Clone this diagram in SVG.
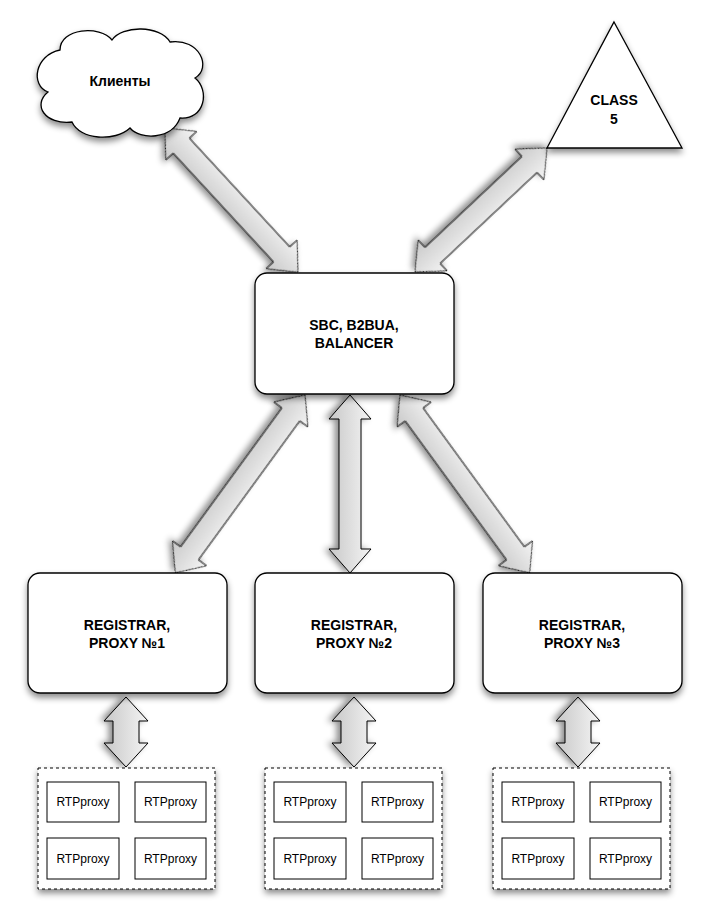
<svg xmlns="http://www.w3.org/2000/svg" width="706" height="921" viewBox="0 0 706 921">
<defs>
<filter id="sh" x="-20%" y="-20%" width="140%" height="150%"><feDropShadow dx="0" dy="4" stdDeviation="3" flood-color="#000" flood-opacity="0.45"/></filter>
<linearGradient id="ag" x1="0" y1="0" x2="0" y2="1"><stop offset="0" stop-color="#f4f4f4"/><stop offset="1" stop-color="#c8c8c8"/></linearGradient>
<style>
.n{fill:#fff;stroke:#000;stroke-width:1.3;filter:url(#sh)}
.t{font-family:"Liberation Sans",Arial,sans-serif;font-weight:bold;font-size:14px;text-anchor:middle}
.s{font-family:"Liberation Sans",Arial,sans-serif;font-size:12px;text-anchor:middle}
.d{fill:#fff;stroke:#000;stroke-width:1;stroke-dasharray:3,3;filter:url(#sh)}
.b{fill:#fff;stroke:#000;stroke-width:1}
.a{fill:url(#ag);stroke:#000;stroke-width:1;filter:url(#sh)}
</style>
</defs>
<g id="connectors">
<polygon class="a" transform="translate(165,128) rotate(47.3)" points="0,0 24,-21 24,-11 172,-11 172,-21 196,0 172,21 172,11 24,11 24,21"/>
<polygon class="a" transform="translate(547,148) rotate(136.8)" points="0,0 24,-21 24,-11 157,-11 157,-21 181,0 157,21 157,11 24,11 24,21"/>
<polygon class="a" transform="translate(305,395) rotate(126.1)" points="0,0 24,-21 24,-11 196,-11 196,-21 220,0 196,21 196,11 24,11 24,21"/>
<polygon class="a" transform="translate(350,395) rotate(90)" points="0,0 24,-21 24,-11 154,-11 154,-21 178,0 154,21 154,11 24,11 24,21"/>
<polygon class="a" transform="translate(400,395) rotate(53.9)" points="0,0 24,-21 24,-11 196,-11 196,-21 220,0 196,21 196,11 24,11 24,21"/>
<polygon class="a" transform="translate(126,697) rotate(90)" points="0,0 24,-22 24,-13 46,-13 46,-22 70,0 46,22 46,13 24,13 24,22"/>
<polygon class="a" transform="translate(354,697) rotate(90)" points="0,0 24,-22 24,-13 46,-13 46,-22 70,0 46,22 46,13 24,13 24,22"/>
<polygon class="a" transform="translate(578,697) rotate(90)" points="0,0 24,-22 24,-13 46,-13 46,-22 70,0 46,22 46,13 24,13 24,22"/>
</g>
<g id="clients">
<path class="n" d="M60,50 C60,28 100,25 112,40 C122,25 160,25 170,42 C200,38 212,68 195,78 C210,90 205,120 180,118 C172,140 140,140 130,128 C115,142 80,140 72,122 C45,125 32,105 48,92 C30,85 35,55 60,50 Z"/>
<text class="t" x="120" y="86">Клиенты</text>
</g>
<g id="class5">
<polygon class="n" points="614,22 682,148 547,148"/>
<text class="t" x="614" y="105">CLASS</text>
<text class="t" x="614" y="124">5</text>
</g>
<g id="sbc">
<rect class="n" x="255" y="273" width="199" height="121" rx="12"/>
<text class="t" x="354" y="330">SBC, B2BUA,</text>
<text class="t" x="354" y="348">BALANCER</text>
</g>
<g id="reg1"><rect class="n" x="28" y="573" width="199" height="120" rx="12"/><text class="t" x="127" y="630">REGISTRAR,</text><text class="t" x="127" y="648">PROXY №1</text></g>
<g id="reg2"><rect class="n" x="255" y="573" width="199" height="120" rx="12"/><text class="t" x="354" y="630">REGISTRAR,</text><text class="t" x="354" y="648">PROXY №2</text></g>
<g id="reg3"><rect class="n" x="483" y="573" width="199" height="120" rx="12"/><text class="t" x="582" y="630">REGISTRAR,</text><text class="t" x="582" y="648">PROXY №3</text></g>
<g id="pool1" transform="translate(38,768)">
<rect class="d" x="0" y="0" width="177" height="121"/>
<rect class="b" x="9" y="14" width="72" height="40"/><text class="s" x="45" y="38">RTPproxy</text>
<rect class="b" x="97" y="14" width="71" height="40"/><text class="s" x="132.5" y="38">RTPproxy</text>
<rect class="b" x="9" y="70" width="72" height="41"/><text class="s" x="45" y="95">RTPproxy</text>
<rect class="b" x="97" y="70" width="71" height="41"/><text class="s" x="132.5" y="95">RTPproxy</text>
</g>
<g id="pool2" transform="translate(265,768)">
<rect class="d" x="0" y="0" width="177" height="121"/>
<rect class="b" x="9" y="14" width="72" height="40"/><text class="s" x="45" y="38">RTPproxy</text>
<rect class="b" x="97" y="14" width="71" height="40"/><text class="s" x="132.5" y="38">RTPproxy</text>
<rect class="b" x="9" y="70" width="72" height="41"/><text class="s" x="45" y="95">RTPproxy</text>
<rect class="b" x="97" y="70" width="71" height="41"/><text class="s" x="132.5" y="95">RTPproxy</text>
</g>
<g id="pool3" transform="translate(493,768)">
<rect class="d" x="0" y="0" width="177" height="121"/>
<rect class="b" x="9" y="14" width="72" height="40"/><text class="s" x="45" y="38">RTPproxy</text>
<rect class="b" x="97" y="14" width="71" height="40"/><text class="s" x="132.5" y="38">RTPproxy</text>
<rect class="b" x="9" y="70" width="72" height="41"/><text class="s" x="45" y="95">RTPproxy</text>
<rect class="b" x="97" y="70" width="71" height="41"/><text class="s" x="132.5" y="95">RTPproxy</text>
</g>
</svg>
